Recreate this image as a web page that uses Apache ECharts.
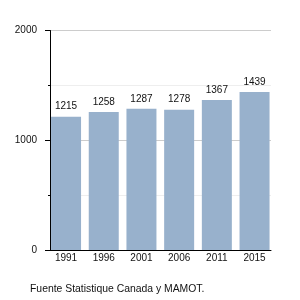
<!DOCTYPE html>
<html><head><meta charset="utf-8">
<script src="https://cdn.jsdelivr.net/npm/echarts@6/dist/echarts.min.js"></script>
<style>html,body{margin:0;padding:0;background:#fff}#c{width:300px;height:300px}</style>
</head><body><div id="c"></div>
<script>
const categories = ['1991','1996','2001','2006','2011','2015'];
const values = [1215, 1258, 1287, 1278, 1367, 1439];
const yTicks = [0, 1000, 2000];
const footer = 'Fuente Statistique Canada y MAMOT.';

const font = 'Liberation Sans, Arial, sans-serif';
const chart = echarts.init(document.getElementById('c'), null, {renderer:'canvas'});
const gTop = 30.5, gBottom = 50;
chart.setOption({
  animation:false,
  backgroundColor:'#fff',
  grid:[
    {left:50, right:29, top:gTop, bottom:gBottom},
    {left:47.2, right:26.6, top:gTop, bottom:gBottom}
  ],
  graphic:[{type:'text', left:30, top:284, style:{text:footer, font:'10.4px '+font, fill:'#111'}}],
  xAxis:[
    {type:'value', gridIndex:0, min:0, max:1, axisLine:{show:true, lineStyle:{color:'#000', width:1}},
     axisTick:{show:false}, axisLabel:{show:false}, splitLine:{show:false}},
    {type:'category', gridIndex:1, data:categories, axisLine:{show:false}, axisTick:{show:false},
     axisLabel:{margin:3, fontSize:10, fontFamily:font, color:'#111'}}
  ],
  yAxis:[
    {type:'value', gridIndex:0, min:yTicks[0], max:yTicks[yTicks.length-1], interval:1000,
     axisLine:{show:true, lineStyle:{color:'#000', width:1}},
     axisTick:{show:true, length:5, lineStyle:{color:'#000'}},
     minorTick:{show:true, splitNumber:2, length:2, lineStyle:{color:'#000'}},
     minorSplitLine:{show:true, lineStyle:{color:'#eeeeee'}},
     splitLine:{show:true, lineStyle:{color:'#cccccc'}},
     axisLabel:{margin:13, fontSize:10, fontFamily:font, color:'#111', formatter: v => String(v)}},
    {type:'value', gridIndex:1, min:0, max:2000, show:false}
  ],
  series:[{
    type:'bar', xAxisIndex:1, yAxisIndex:1, data:values, barWidth:30,
    itemStyle:{color:'#98b1cc'},
    label:{show:true, position:'top', distance:5, fontSize:10, fontFamily:font, color:'#111'}
  }]
});
</script></body></html>
